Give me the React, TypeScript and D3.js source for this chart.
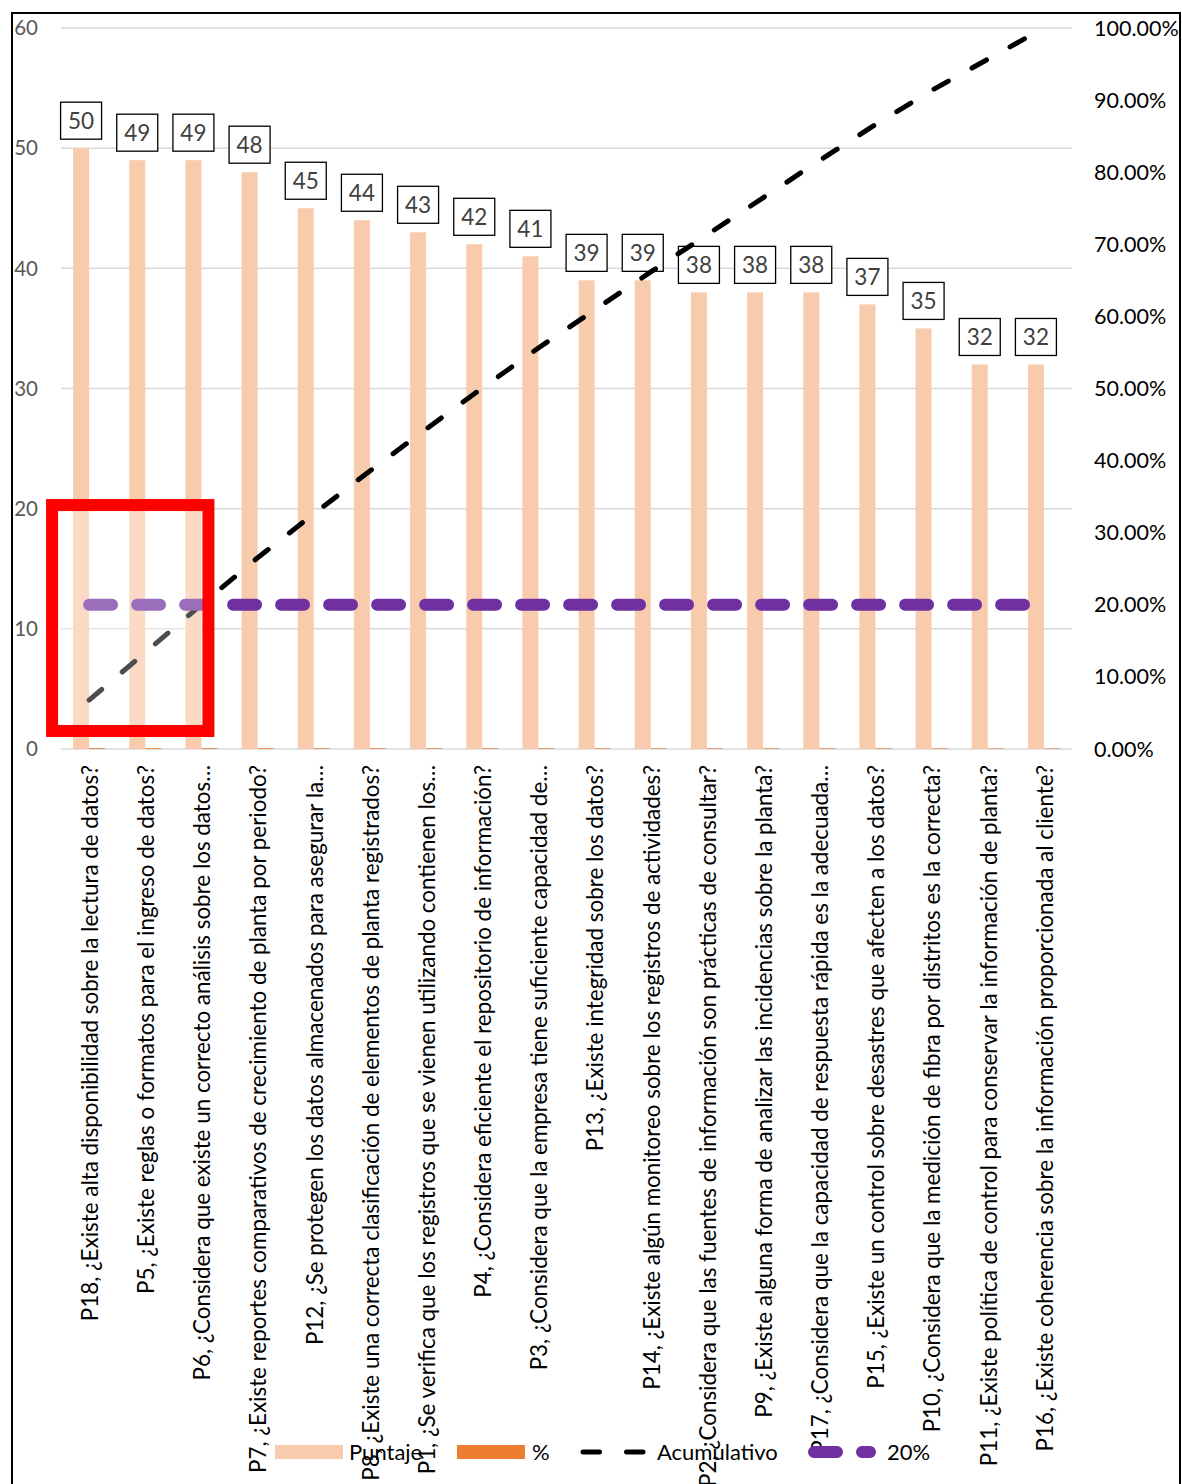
import React from "react";
import * as d3 from "d3";

const categories = [
  "P18, ¿Existe alta disponibilidad sobre la lectura de datos?",
  "P5, ¿Existe reglas o formatos para el ingreso de datos?",
  "P6, ¿Considera que existe un correcto análisis sobre los datos…",
  "P7, ¿Existe reportes comparativos de crecimiento de planta por periodo?",
  "P12, ¿Se protegen los datos almacenados para asegurar la…",
  "P8, ¿Existe una correcta clasificación de elementos de planta registrados?",
  "P1, ¿Se verifica que los registros que se vienen utilizando contienen los…",
  "P4, ¿Considera eficiente el repositorio de información?",
  "P3, ¿Considera que la empresa tiene suficiente capacidad de…",
  "P13, ¿Existe integridad sobre los datos?",
  "P14, ¿Existe algún monitoreo sobre los registros de actividades?",
  "P2, ¿Considera que las fuentes de información son prácticas de consultar?",
  "P9, ¿Existe alguna forma de analizar las incidencias sobre la planta?",
  "P17, ¿Considera que la capacidad de respuesta rápida es la adecuada…",
  "P15, ¿Existe un control sobre desastres que afecten a los datos?",
  "P10, ¿Considera que la medición de fibra por distritos es la correcta?",
  "P11, ¿Existe política de control para conservar la información de planta?",
  "P16, ¿Existe coherencia sobre la información proporcionada al cliente?",
];
const puntaje = [50, 49, 49, 48, 45, 44, 43, 42, 41, 39, 39, 38, 38, 38, 37, 35, 32, 32];
const porcentaje = [0.0677, 0.0663, 0.0663, 0.065, 0.0609, 0.0595, 0.0582, 0.0568, 0.0555, 0.0528, 0.0528, 0.0514, 0.0514, 0.0514, 0.0501, 0.0474, 0.0433, 0.0433];
const acumulativo = [0.0677, 0.134, 0.2003, 0.2652, 0.3261, 0.3857, 0.4438, 0.5007, 0.5562, 0.6089, 0.6617, 0.7131, 0.7645, 0.816, 0.866, 0.9134, 0.9567, 1.0];
const meta20 = [0.2, 0.2, 0.2, 0.2, 0.2, 0.2, 0.2, 0.2, 0.2, 0.2, 0.2, 0.2, 0.2, 0.2, 0.2, 0.2, 0.2, 0.2];
const leftTicks = [0, 10, 20, 30, 40, 50, 60];
const rightTicks = [0, 0.1, 0.2, 0.3, 0.4, 0.5, 0.6, 0.7, 0.8, 0.9, 1.0];
const legendItems = ["Puntaje", "%", "Acumulativo", "20%"];
const highlightCount = 3;

const W = 1182;
const H = 1484;
const FONT = "Lato, 'Open Sans', sans-serif";

export default function App() {
  const x = d3.scaleBand<string>().domain(categories).range([61, 1072]).paddingInner(0).paddingOuter(0);
  const yL = d3.scaleLinear().domain([0, 60]).range([749, 28]);
  const yR = d3.scaleLinear().domain([0, 1]).range([749, 28]);
  const cx = (i: number) => (x(categories[i]) as number) + x.bandwidth() / 2;
  const barW = 16;

  const line = d3
    .line<number>()
    .x((_, i) => cx(i))
    .y((d) => yR(d));

  const boxW = 41;
  const boxH = 37;

  const hlLeft = cx(0) - 37;
  const hlRight = cx(highlightCount - 1) + 7;
  const hlTop = yL(20.3);
  const hlBottom = yL(1.5);

  const legendX = [275, 457, 580, 808];
  const legendTextX = [349, 532, 657, 887];
  const legendY = 1452;

  return (
    <svg width={W} height={H} style={{ position: "absolute", left: 0, top: 0, background: "#fff" }} fontFamily={FONT}>
      <rect x={0} y={0} width={W} height={H} fill="#fff" />
      {leftTicks.map((t) => (
        <line key={"g" + t} x1={61} x2={1072} y1={yL(t)} y2={yL(t)} stroke="#D9D9D9" strokeWidth={1.5} />
      ))}
      {leftTicks.map((t) => (
        <text key={"l" + t} x={38} y={yL(t)} dy="0.35em" textAnchor="end" fontSize={20.5} fill="#595959">
          {t}
        </text>
      ))}
      {rightTicks.map((t) => (
        <text key={"r" + t} x={1094} y={yR(t)} dy="0.35em" textAnchor="start" fontSize={21.5} fill="#000">
          {(t * 100).toFixed(2) + "%"}
        </text>
      ))}
      {categories.map((c, i) => (
        <g key={"b" + i}>
          <rect x={cx(i) - barW} y={yL(puntaje[i])} width={barW} height={yL(0) - yL(puntaje[i])} fill="#F8CBAD" />
          <rect x={cx(i)} y={yL(porcentaje[i])} width={barW} height={yL(0) - yL(porcentaje[i])} fill="#ED7D31" />
        </g>
      ))}
      {categories.map((c, i) => {
        const bx = cx(i) - barW / 2;
        const by = yL(puntaje[i]) - 9 - boxH;
        return (
          <g key={"d" + i}>
            <rect x={bx - boxW / 2} y={by} width={boxW} height={boxH} fill="#fff" stroke="#000" strokeWidth={1.3} />
            <text x={bx} y={by + boxH / 2} dy="0.36em" textAnchor="middle" fontSize={22.5} fill="#404040">
              {puntaje[i]}
            </text>
          </g>
        );
      })}
      <path d={line(acumulativo) || ""} fill="none" stroke="#000" strokeWidth={5} strokeDasharray="16.5 27" strokeLinecap="round" />
      <path d={line(meta20) || ""} fill="none" stroke="#7030A0" strokeWidth={12} strokeDasharray="23 25" strokeLinecap="round" />
      {categories.map((c, i) => (
        <text
          key={"c" + i}
          transform={`translate(${cx(i) + 1},765) rotate(-90)`}
          textAnchor="end"
          dy="0.35em"
          fontSize={22.4}
          fill="#000"
        >
          {c}
        </text>
      ))}
      <rect
        x={hlLeft}
        y={hlTop}
        width={hlRight - hlLeft}
        height={hlBottom - hlTop}
        fill="#fff"
        fillOpacity={0.3}
        stroke="#FF0000"
        strokeWidth={12}
      />
      <rect x={legendX[0]} y={legendY - 7} width={68} height={14} fill="#F8CBAD" />
      <rect x={legendX[1]} y={legendY - 7} width={68} height={14} fill="#ED7D31" />
      <line x1={legendX[2] + 3} x2={legendX[2] + 63} y1={legendY} y2={legendY} stroke="#000" strokeWidth={5} strokeDasharray="16.5 27" strokeLinecap="round" />
      <line x1={legendX[3] + 6} x2={legendX[3] + 62} y1={legendY} y2={legendY} stroke="#7030A0" strokeWidth={12} strokeDasharray="23 25" strokeLinecap="round" />
      {legendItems.map((n, i) => (
        <text key={"lg" + i} x={legendTextX[i]} y={legendY} dy="0.35em" fontSize={22} fill="#000">
          {n}
        </text>
      ))}
      <rect x={12} y={13} width={1168} height={H + 10} fill="none" stroke="#000" strokeWidth={2} />
    </svg>
  );
}
